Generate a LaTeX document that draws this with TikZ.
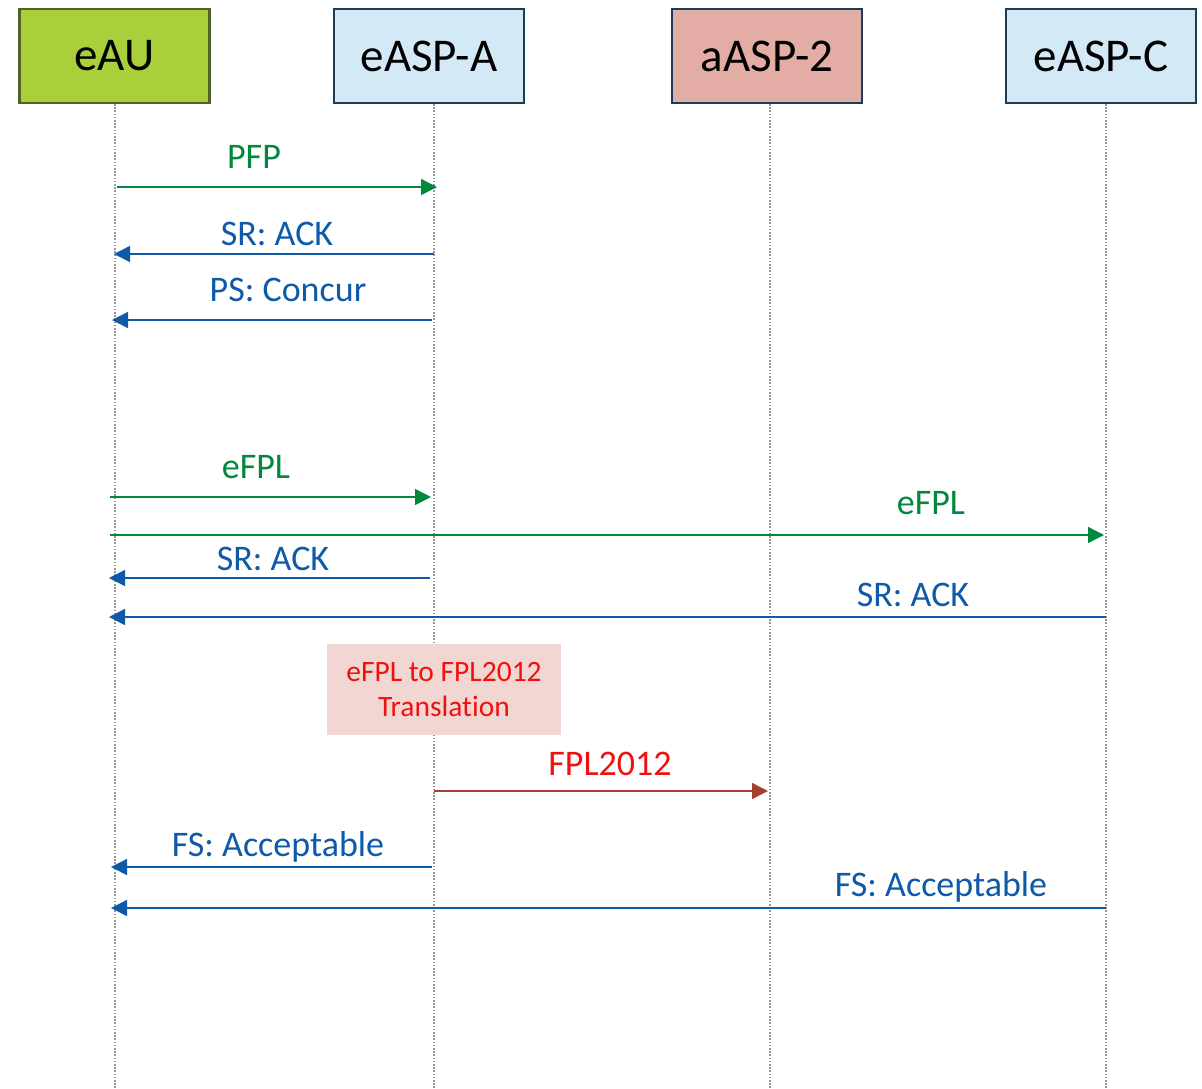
\documentclass[tikz,border=0pt]{standalone}
\usepackage{fontspec}
\setmainfont{Carlito}[Ligatures={NoCommon}]
\usetikzlibrary{arrows.meta}
\definecolor{hgreen}{RGB}{169,208,58}
\definecolor{hgreenb}{RGB}{79,98,40}
\definecolor{hblue}{RGB}{212,233,246}
\definecolor{hnavy}{RGB}{27,61,88}
\definecolor{hpink}{RGB}{227,173,165}
\definecolor{mgreen}{RGB}{0,137,62}
\definecolor{mblue}{RGB}{14,90,168}
\definecolor{mred}{RGB}{240,16,16}
\definecolor{mbrown}{RGB}{166,64,50}
\definecolor{tfill}{RGB}{242,214,210}
\definecolor{lgray}{RGB}{150,150,150}
\tikzset{
  head/.style={draw=hnavy, line width=2.6pt, minimum width=190pt, minimum height=94pt, inner sep=0pt, font=\fontsize{47}{52}\selectfont},
  life/.style={lgray, line width=1.4pt, dash pattern=on 1.6pt off 1.6pt},
  msg/.style={line width=1.4pt, -{Triangle[length=16pt,width=16pt]}},
  lbl/.style={anchor=base, font=\fontsize{36}{40}\selectfont, inner sep=0pt},
}
\begin{document}
\begin{tikzpicture}[x=1pt,y=-1pt]
\useasboundingbox[fill=white] (0,0) rectangle (1202,1088);
% headers
\node[head, fill=hgreen, draw=hgreenb] (eau) at (114.5,56) {eAU};
\node[head, fill=hblue] (aspa) at (429,56) {eASP-A};
\node[head, fill=hpink] (asp2) at (767,56) {aASP-2};
\node[head, fill=hblue] (aspc) at (1101,56) {eASP-C};
% lifelines
\coordinate (eauE) at (115,1088);
\coordinate (aspaE) at (434,1088);
\coordinate (asp2E) at (770,1088);
\coordinate (aspcE) at (1106,1088);
\draw[life] (115,104) -- (eauE);
\draw[life] (434,104) -- (aspaE);
\draw[life] (770,104) -- (asp2E);
\draw[life] (1106,104) -- (aspcE);
% message end points
\coordinate (m1a) at (117,187);  \coordinate (m1b) at (437,187);
\coordinate (m2a) at (434,254);  \coordinate (m2b) at (114,254);
\coordinate (m3a) at (432,320);  \coordinate (m3b) at (112,320);
\coordinate (m4a) at (110,497);  \coordinate (m4b) at (431,497);
\coordinate (m5a) at (110,535);  \coordinate (m5b) at (1104,535);
\coordinate (m6a) at (430,578);  \coordinate (m6b) at (109,578);
\coordinate (m7a) at (1106,617); \coordinate (m7b) at (109,617);
\coordinate (m8a) at (434,791);  \coordinate (m8b) at (768,791);
\coordinate (m9a) at (432,867);  \coordinate (m9b) at (111,867);
\coordinate (m10a) at (1106,908); \coordinate (m10b) at (111,908);
% messages
\draw[msg, mgreen] (m1a) -- (m1b);
\node[lbl, mgreen] (l1) at (254,168) {PFP};
\draw[msg, mblue] (m2a) -- (m2b);
\node[lbl, mblue] (l2) at (277,245) {SR: ACK};
\draw[msg, mblue] (m3a) -- (m3b);
\node[lbl, mblue] (l3) at (288,301) {PS: Concur};
\draw[msg, mgreen] (m4a) -- (m4b);
\node[lbl, mgreen] (l4) at (256,478) {eFPL};
\draw[msg, mgreen] (m5a) -- (m5b);
\node[lbl, mgreen] (l5) at (931,514) {eFPL};
\draw[msg, mblue] (m6a) -- (m6b);
\node[lbl, mblue] (l6) at (273,570) {SR: ACK};
\draw[msg, mblue] (m7a) -- (m7b);
\node[lbl, mblue] (l7) at (913,606) {SR: ACK};
% translation box
\node[fill=tfill, minimum width=234pt, minimum height=91pt, inner sep=0pt] (tr) at (444,689.5) {};
\node[anchor=base, mred, font=\fontsize{29.5}{33}\selectfont, inner sep=0pt] (tr1) at (444,681) {eFPL to FPL2012};
\node[anchor=base, mred, font=\fontsize{29.5}{33}\selectfont, inner sep=0pt] (tr2) at (444,716) {Translation};
\draw[msg, mbrown] (m8a) -- (m8b);
\node[lbl, mred] (l8) at (610,775) {FPL2012};
\draw[msg, mblue] (m9a) -- (m9b);
\node[lbl, mblue] (l9) at (278,856) {FS: Acceptable};
\draw[msg, mblue] (m10a) -- (m10b);
\node[lbl, mblue] (l10) at (941,896) {FS: Acceptable};
\end{tikzpicture}
\end{document}
